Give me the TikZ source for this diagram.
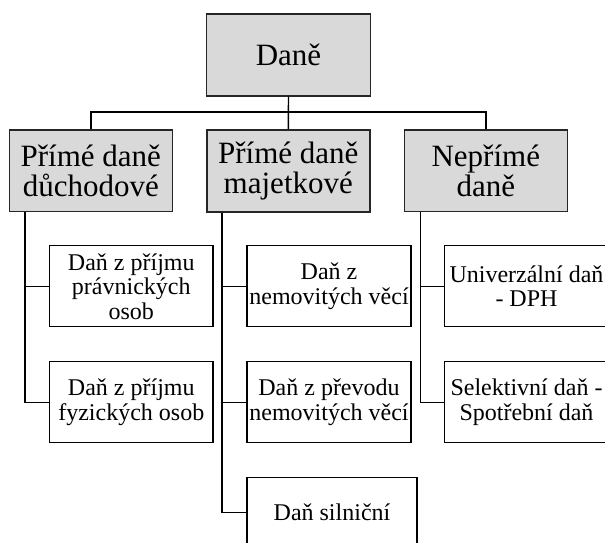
\documentclass[tikz,border=0pt]{standalone}
\usepackage{fontspec}
\setmainfont{Liberation Serif}
\begin{document}
\begin{tikzpicture}[x=1pt,y=-1pt,
  topbox/.style={draw=black!85,line width=1.1pt,fill=black!15,inner sep=0pt,
    minimum width=163.5pt,minimum height=81.7pt,align=center,
    font=\fontsize{31}{30}\selectfont},
  leafbox/.style={draw=black,line width=1.2pt,fill=white,inner sep=0pt,
    minimum width=163.5pt,minimum height=81pt,align=center,
    font=\fontsize{24}{24.5}\selectfont},
  conn/.style={draw=black,line width=1.4pt}]
\useasboundingbox (0,0) rectangle (605,542);
% top
\node[topbox,minimum height=82pt] (dane) at (288.5,55) {Daně};
% level 2
\node[topbox] (pd) at (90.8,170.8) {Přímé daně\\důchodové};
\node[topbox,line width=2pt] (pm) at (288.3,170.8) {Přímé daně\\majetkové};
\node[topbox] (np) at (485.8,170.8) {Nepřímé\\daně};
% leaves left
\node[leafbox] (la) at (131.3,286.3) {Daň z příjmu\\právnických\\osob};
\node[leafbox] (lb) at (131.3,402.3) {Daň z příjmu\\fyzických osob};
% leaves middle
\node[leafbox,minimum width=164pt] (ma) at (329,286.3) {Daň z\\nemovitých věcí};
\node[leafbox,minimum width=164pt] (mb) at (329,402.3) {Daň z převodu\\nemovitých věcí};
\node[leafbox,minimum width=170pt,minimum height=70pt] (mc) at (332,512.7) {Daň silniční};
% leaves right
\node[leafbox,minimum width=164pt] (ra) at (526.5,286.3) {Univerzální daň\\- DPH};
\node[leafbox,minimum width=164pt] (rb) at (526.5,402.3) {Selektivní daň -\\Spotřební daň};
% connectors top
\draw[conn] (dane.south) -- (pm.north);
\draw[conn] (pd.north) -- ++(0,-17.5) -| (np.north);
% left branch
\coordinate (pdx) at ([xshift=16.5pt]pd.south west);
\draw[conn] (pdx) |- (la.west);
\draw[conn] (pdx) |- (lb.west);
% middle branch
\coordinate (pmx) at ([xshift=16.3pt]pm.south west);
\draw[conn] (pmx) |- (ma.west);
\draw[conn] (pmx) |- (mb.west);
\draw[conn] (pmx) |- (mc.west);
% right branch
\coordinate (npx) at ([xshift=16.7pt]np.south west);
\draw[conn] (npx) |- (ra.west);
\draw[conn] (npx) |- (rb.west);
\end{tikzpicture}
\end{document}
